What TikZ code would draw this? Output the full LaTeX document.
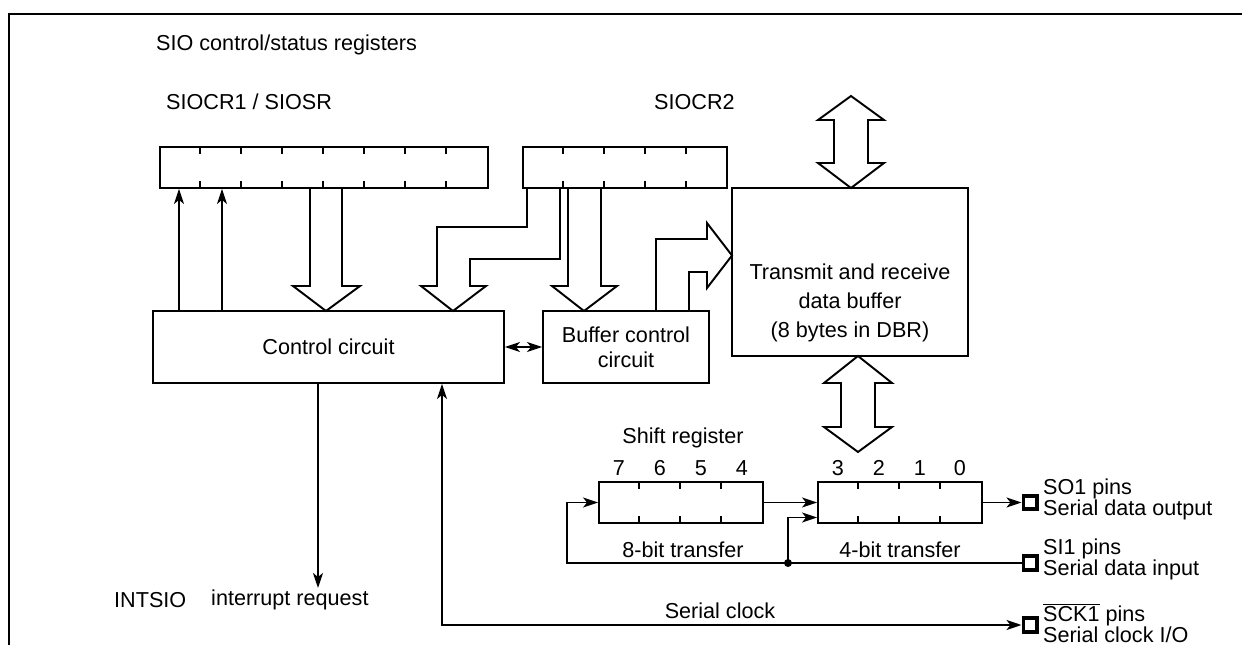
\documentclass[tikz,border=0pt]{standalone}
\usepackage{fontspec}
\setmainfont{Liberation Sans}
\usetikzlibrary{arrows.meta}

\begin{document}
\begin{tikzpicture}[x=0.02cm, y=-0.02cm, font=\fontsize{12.3}{14}\selectfont,
        >={Stealth[length=0.3cm, width=0.2cm, inset=0.08cm]}]
        \tikzstyle{conn}=[line width=1.1pt];
        \tikzstyle{block}=[draw, line width=1.1pt, rectangle, inner sep=0pt, minimum height=1.44cm, align=center];
        \tikzstyle{reg}=[draw, line width=1.1pt, rectangle, inner sep=0pt, minimum height=0.82cm];
        \tikzstyle{pad}=[draw, line width=2pt, rectangle, inner sep=0pt, minimum size=0.27cm];
        \tikzstyle{fat}=[line width=1.1pt, line join=miter];
        \tikzstyle{padtext}=[anchor=west, align=left, inner sep=1pt, font=\fontsize{12.3}{12}\selectfont];

        \useasboundingbox (0,0) rectangle (1242,645);
        \draw[line width=1.4pt] (9,645) -- (9,14) -- (1242,14);

        \node[anchor=west] (title) at (150,45) {SIO control/status registers};
        \node[anchor=west] (regAname) at (160,102) {SIOCR1 / SIOSR};
        \node[anchor=west] (regBname) at (648,102) {SIOCR2};

        \node[reg, minimum width=6.56cm] (regA) at (324,167.5) {};
        \node[reg, minimum width=4.08cm] (regB) at (625,167.5) {};
        \node[reg, minimum width=3.28cm] (shhi) at (681,502.5) {};
        \node[reg, minimum width=3.28cm] (shlo) at (900,502.5) {};
        \foreach \r/\n in {regA/7, regB/4, shhi/3, shlo/3}
            \foreach \i in {1,...,\n} {
                \draw[conn] ([xshift=\i*0.82cm]\r.north west) -- ++(0,8);
                \draw[conn] ([xshift=\i*0.82cm]\r.south west) -- ++(0,-8);
            }

        \node[block, minimum width=7.02cm] (ctrl) at (328.5,347) {Control circuit};
        \node[block, minimum width=3.32cm, font=\fontsize{12.3}{14.2}\selectfont] (bufctl) at (626,347) {Buffer control\\circuit};
        \node[block, minimum width=4.72cm, minimum height=3.36cm] (dbuf) at (850,272) {};
        \node[align=center, font=\fontsize{12.3}{16.5}\selectfont] (dbuftext) at (850,303) {Transmit and receive\\data buffer\\(8 bytes in DBR)};

        \node (shname) at (683,438) {Shift register};
        \foreach \b/\x in {7/619, 6/660, 5/701, 4/742, 3/838, 2/879, 1/920, 0/960}
            \node (bit\b) at (\x,468) {\b};
        \node (tr8) at (683,550) {8-bit transfer};
        \node (tr4) at (900,550) {4-bit transfer};

        \node[pad] (pinso) at (1030,502.5) {};
        \node[pad] (pinsi) at (1030,563) {};
        \node[pad] (pinsck) at (1030,625) {};
        \node[padtext] (sotext) at (1041,499) {SO1 pins\\Serial data output};
        \node[padtext] (sitext) at (1041,559) {SI1 pins\\Serial data input};
        \node[padtext] (scktext) at (1041,623) {$\overline{\mbox{SCK1}}$ pins\\Serial clock I/O};

        \node[anchor=west] (intname) at (108,600) {INTSIO};
        \node[anchor=west] (intreqtext) at (205,600) {interrupt request};
        \node (sckname) at (720,611) {Serial clock};

        \draw[fat] (310,188) -- (310,286) -- (293,286) -- (326,311) -- (360,286) -- (342,286) -- (342,188);
        \draw[fat] (527,188) -- (527,227) -- (437,227) -- (437,286) -- (421,286) -- (453,311) -- (486,286) -- (470,286) -- (470,259) -- (560,259) -- (560,188);
        \draw[fat] (568,188) -- (568,286) -- (552,286) -- (584,311) -- (617,286) -- (601,286) -- (601,188);
        \draw[fat] (656,311) -- (656,239) -- (707,239) -- (707,223) -- (732,255.5) -- (707,288) -- (707,272) -- (689,272) -- (689,311);
        \draw[fat] (851,96) -- (884,120) -- (868,120) -- (868,163) -- (884,163) -- (851,188) -- (818,163) -- (834,163) -- (834,120) -- (818,120) -- cycle;
        \draw[fat] (858,356) -- (892,383) -- (875,383) -- (875,427) -- (892,427) -- (858,452) -- (824,427) -- (841,427) -- (841,383) -- (824,383) -- cycle;

        \coordinate (upA) at (179,250);
        \coordinate (upB) at (222,250);
        \coordinate (intreq) at (318,588);
        \coordinate (sck) at (442,625);
        \coordinate (fb) at (567,563);
        \coordinate (jn) at (788,563);

        \draw[conn, ->] (upA |- ctrl.north) -- (upA |- regA.south);
        \draw[conn, ->] (upB |- ctrl.north) -- (upB |- regA.south);
        \draw[conn, <->] (ctrl.east) -- (bufctl.west);
        \draw[conn, ->] (intreq |- ctrl.south) -- (intreq);
        \draw[conn, <->] (sck |- ctrl.south) -- (sck) -- (pinsck.west);
        \draw[conn, ->] (shhi.east) -- (shlo.west);
        \draw[conn, ->] (shlo.east) -- (pinso.west);
        \draw[conn, ->] (pinsi.west) -- (fb) |- (shhi.west);
        \draw[conn, ->] (jn) |- ([yshift=-0.3cm]shlo.west);
        \fill (jn) circle (0.08cm);
    \end{tikzpicture}
\end{document}
